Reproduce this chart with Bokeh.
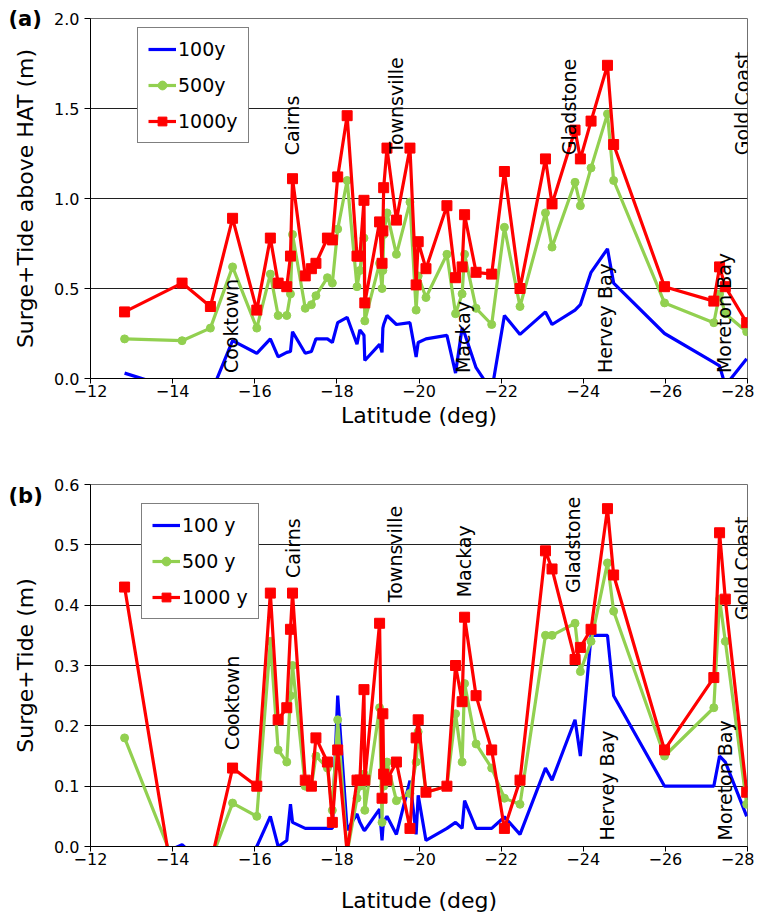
import math
from bokeh.plotting import figure
from bokeh.models import (Range1d, FixedTicker, Label, Legend, LegendItem,
                          NumeralTickFormatter)
from bokeh.core.properties import value
from bokeh.layouts import column, row
from bokeh.embed import file_html
from bokeh.resources import INLINE

# ---------------- data ----------------
lat = [-12.83, -14.23, -14.92, -15.46, -16.05, -16.38, -16.57, -16.78, -16.87, -16.92,
       -17.23, -17.38, -17.49, -17.77, -17.89, -18.02, -18.25, -18.49, -18.56, -18.66,
       -18.68, -19.04, -19.10, -19.12, -19.14, -19.22, -19.45, -19.78, -19.93, -19.98,
       -20.17, -20.68, -20.89, -21.05, -21.11, -21.39, -21.77, -22.08, -22.46, -23.08,
       -23.24, -23.80, -23.93, -24.19, -24.59, -24.74, -25.98, -27.18, -27.32, -27.46,
       -27.98]

# panel (a): surge + tide above HAT (m)
a_100 = [0.03, -0.07, -0.09, 0.21, 0.14, 0.22, 0.12, 0.145, 0.15, 0.26,
         0.14, 0.15, 0.22, 0.22, 0.20, 0.31, 0.34, 0.19, 0.27, 0.24,
         0.10, 0.19, 0.145, 0.28, 0.30, 0.35, 0.30, 0.31, 0.12, 0.20,
         0.22, 0.24, 0.03, 0.28, 0.25, 0.06, -0.07, 0.35, 0.245, 0.37,
         0.30, 0.38, 0.41, 0.59, 0.72, 0.53, 0.25, 0.09, 0.07, -0.04,
         0.11]
a_500 = [0.22, 0.21, 0.28, 0.62, 0.28, 0.58, 0.35, 0.35, 0.47, 0.80,
         0.39, 0.41, 0.46, 0.56, 0.53, 0.83, 1.10, 0.51, 0.60, 0.78,
         0.32, 0.64, 0.50, 0.60, 0.80, 0.92, 0.69, 0.98, 0.38, 0.57,
         0.45, 0.69, 0.36, 0.47, 0.69, 0.39, 0.30, 0.84, 0.40, 0.92,
         0.73, 1.09, 0.96, 1.17, 1.47, 1.10, 0.42, 0.31, 0.47, 0.36,
         0.26]
a_1000 = [0.37, 0.53, 0.40, 0.89, 0.38, 0.78, 0.53, 0.51, 0.68, 1.11,
          0.57, 0.61, 0.64, 0.78, 0.77, 1.12, 1.46, 0.68, 0.68, 0.99,
          0.42, 0.87, 0.64, 0.82, 1.06, 1.28, 0.88, 1.28, 0.52, 0.76,
          0.61, 0.96, 0.56, 0.62, 0.91, 0.59, 0.58, 1.15, 0.50, 1.22,
          0.97, 1.38, 1.22, 1.43, 1.74, 1.30, 0.51, 0.43, 0.62, 0.51,
          0.31]

# panel (b): surge + tide (m)
b_100 = [-0.04, 0.003, -0.04, -0.03, 0.0, 0.05, 0.0, 0.01, 0.07, 0.04,
         0.03, 0.03, 0.03, 0.03, 0.03, 0.25, 0.027, 0.054, 0.04, 0.027,
         0.027, 0.062, 0.01, 0.03, 0.04, 0.05, 0.02, 0.109, 0.02, 0.085,
         0.01, 0.03, 0.04, 0.03, 0.076, 0.03, 0.03, 0.049, 0.02, 0.13,
         0.11, 0.21, 0.15, 0.35, 0.35, 0.25, 0.10, 0.10, 0.15, 0.14,
         0.05]
b_500 = [0.18, -0.06, -0.025, 0.072, 0.05, 0.34, 0.16, 0.14, 0.25, 0.30,
         0.10, 0.10, 0.15, 0.13, 0.06, 0.21, -0.01, 0.08, 0.10, 0.12,
         0.06, 0.23, 0.04, 0.12, 0.10, 0.14, 0.076, 0.088, 0.14, 0.19,
         0.09, 0.10, 0.22, 0.14, 0.27, 0.17, 0.13, 0.08, 0.07, 0.35,
         0.35, 0.37, 0.29, 0.34, 0.47, 0.39, 0.15, 0.23, 0.41, 0.34,
         0.07]
b_1000 = [0.43, -0.15, -0.03, 0.13, 0.10, 0.42, 0.21, 0.23, 0.36, 0.42,
          0.11, 0.10, 0.18, 0.14, 0.04, 0.16, -0.01, 0.11, 0.11, 0.26,
          0.11, 0.37, 0.08, 0.22, 0.12, 0.11, 0.14, 0.03, 0.18, 0.21,
          0.09, 0.10, 0.30, 0.24, 0.38, 0.25, 0.16, 0.03, 0.11, 0.49,
          0.46, 0.31, 0.33, 0.36, 0.56, 0.45, 0.16, 0.28, 0.52, 0.41,
          0.09]

x_ticks = [-12, -14, -16, -18, -20, -22, -24, -26, -28]
a_ticks = [0.0, 0.5, 1.0, 1.5, 2.0]
b_ticks = [0.0, 0.1, 0.2, 0.3, 0.4, 0.5, 0.6]

places = ["Cooktown", "Cairns", "Townsville", "Mackay", "Gladstone",
          "Hervey Bay", "Moreton Bay", "Gold Coast"]
place_lat_a = [-15.43, -16.90, -19.43, -21.08, -23.65, -24.52, -27.42, -27.86]
place_val_a = [0.03, 1.24, 1.25, 0.03, 1.24, 0.03, 0.03, 1.24]
place_lat_b = [-15.44, -16.93, -19.42, -21.10, -23.74, -24.57, -27.45, -27.87]
place_val_b = [0.16, 0.445, 0.405, 0.413, 0.42, 0.01, 0.01, 0.375]

names_a = ["100y", "500y", "1000y"]
names_b = ["100 y", "500 y", "1000 y"]

# ---------------- styles ----------------
FONT = "DejaVu Sans"
BLUE = "#0000FF"
GREEN = "#92D050"
RED = "#FF0000"
TAG_W = 48


def side_panel(height, tag, ylabel, tag_from_top, label_from_top):
    """Narrow strip left of the axis holding the panel tag and the y title."""
    s = figure(width=TAG_W, height=height, output_backend="svg",
               toolbar_location=None, x_axis_location=None, y_axis_location=None,
               x_range=Range1d(0, TAG_W), y_range=Range1d(0, height),
               min_border=0)
    s.title = None
    if "frame_align" in s.properties():
        s.frame_align = False
    s.outline_line_color = None
    s.grid.grid_line_color = None
    s.text(x=[8], y=[height - tag_from_top], text=[tag], text_align="left",
           text_baseline="middle", text_font=value(FONT), text_font_size="21px",
           text_font_style="bold", text_color="black")
    s.text(x=[25], y=[height - label_from_top], text=[ylabel], angle=math.pi / 2,
           text_align="center", text_baseline="middle", text_font=value(FONT),
           text_font_size="22px", text_color="black")
    return s


def make_panel(y_end, yticks, s100, s500, s1000, names,
               plat, pval, legend_loc, fig_h, top, bottom, xlab_standoff):
    p = figure(width=706, height=fig_h, output_backend="svg", toolbar_location=None,
               x_range=Range1d(-12, -28), y_range=Range1d(0, y_end),
               min_border_left=90 - TAG_W, min_border_right=7,
               min_border_top=top, min_border_bottom=bottom)
    p.title = None
    p.background_fill_color = "white"
    p.outline_line_color = "#707070"
    p.outline_line_width = 1

    # axes
    p.xaxis.ticker = FixedTicker(ticks=x_ticks)
    p.yaxis.ticker = FixedTicker(ticks=yticks)
    p.yaxis.formatter = NumeralTickFormatter(format="0.0")
    for ax in (p.xaxis, p.yaxis):
        ax.axis_line_color = "black"
        ax.axis_line_width = 1
        ax.major_tick_line_color = "black"
        ax.minor_tick_line_color = None
        ax.major_tick_in = 0
        ax.major_label_text_font = FONT
        ax.major_label_text_font_size = "16px"
        ax.major_label_text_color = "black"
        ax.axis_label_text_font = FONT
        ax.axis_label_text_font_style = "normal"
        ax.axis_label_text_color = "black"
    p.xaxis.major_tick_out = 5
    p.yaxis.major_tick_out = 6
    p.xaxis.major_label_standoff = 1
    p.yaxis.major_label_standoff = 5
    p.xaxis.axis_label = "Latitude (deg)"
    p.xaxis.axis_label_text_font_size = "22px"
    p.xaxis.axis_label_standoff = xlab_standoff

    p.xgrid.grid_line_color = None
    p.ygrid.grid_line_color = "#202020"
    p.ygrid.grid_line_width = 1

    # series
    r1 = p.line(lat, s100, line_color=BLUE, line_width=3.2)
    r2 = p.line(lat, s500, line_color=GREEN, line_width=3.2)
    r2m = p.scatter(lat, s500, marker="circle", size=8, fill_color=GREEN,
                    line_color=GREEN)
    r3 = p.line(lat, s1000, line_color=RED, line_width=3.2)
    r3m = p.scatter(lat, s1000, marker="square", size=10, fill_color=RED,
                    line_color=RED)

    # place names
    for name, x, y in zip(places, plat, pval):
        p.add_layout(Label(x=x, y=y, text=name, angle=math.pi / 2,
                           text_align="left", text_baseline="middle",
                           text_font=FONT, text_font_size="19px",
                           text_color="black"))

    legend = Legend(items=[LegendItem(label=names[0], renderers=[r1]),
                           LegendItem(label=names[1], renderers=[r2, r2m]),
                           LegendItem(label=names[2], renderers=[r3, r3m])],
                    location=legend_loc)
    legend.border_line_color = "black"
    legend.border_line_width = 1
    legend.background_fill_color = "white"
    legend.background_fill_alpha = 1
    legend.label_text_font = FONT
    legend.label_text_font_size = "19px"
    legend.label_text_color = "black"
    legend.glyph_width = 28
    legend.glyph_height = 22
    legend.label_standoff = 2
    legend.spacing = 14
    legend.padding = 10
    legend.margin = 0
    p.add_layout(legend, "center")
    return p


HA = 440
HB = 477
pa = make_panel(2.0, a_ticks, a_100, a_500, a_1000, names_a,
                place_lat_a, place_val_a, (47, 235), HA, 18, 62, 3)
pb = make_panel(0.6, b_ticks, b_100, b_500, b_1000, names_b,
                place_lat_b, place_val_b, (51, 227), HB, 44, 71, 20)
sa = side_panel(HA, "(a)", "Surge+Tide above HAT (m)", 18, 198)
sb = side_panel(HB, "(b)", "Surge+Tide (m)", 55, 225)

layout = column(row(sa, pa, spacing=0), row(sb, pb, spacing=0), spacing=0)
open("out.html", "w").write(file_html(layout, INLINE))
